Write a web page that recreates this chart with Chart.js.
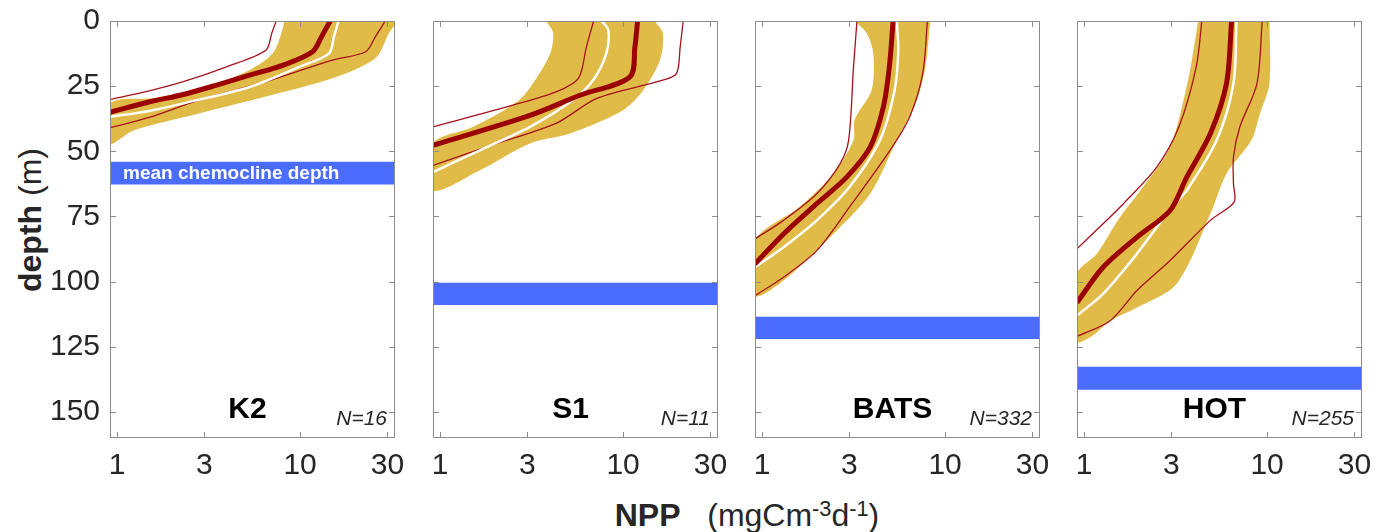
<!DOCTYPE html>
<html>
<head>
<meta charset="utf-8">
<script src="https://cdn.jsdelivr.net/npm/chart.js@4/dist/chart.umd.min.js"></script>
<style>
  body { margin: 0; background: #fff; width: 1389px; height: 532px; position: relative; overflow: hidden;
         font-family: "Liberation Sans", Arial, sans-serif; color: #262626; }
  canvas { position: absolute; top: 0; }
  #ylab { position: absolute; left: 30px; top: 220px; transform: translate(-50%, -50%) rotate(-90deg);
          font-size: 32px; line-height: 32px; white-space: nowrap; }
  #xlab { position: absolute; left: 747px; top: 499px; transform: translateX(-50%);
          font-size: 32px; line-height: 32px; white-space: nowrap; }
  .sup { position: relative; top: -0.48em; font-size: 0.68em; }
</style>
</head>
<body>
<div id="ylab"><b>depth</b> (m)</div>
<div id="xlab"><b>NPP</b>&nbsp;&nbsp;&nbsp;(mgCm<span class="sup">-3</span>d<span class="sup">-1</span>)</div>
<script>
const stations = ['K2', 'S1', 'BATS', 'HOT'];
const nObs = [16, 11, 332, 255];
// mean chemocline depth band (m)
const chemoTop = [54, 100.4, 113.5, 132.7];
const chemoBottom = [62.7, 109, 122, 141.5];

const depthTicks = [0, 25, 50, 75, 100, 125, 150];
const nppTicks = [1, 3, 10, 30];
const nppRange = [0.915, 33];
const depthRange = [0, 160];

// profiles as [NPP, depth] pairs
const k2Median = [[14.6, 0], [13.1, 6], [11.7, 11.8], [8.1, 16.9], [5.3, 20.8], [3.5, 24.6], [2.3, 28.2], [1.51, 31], [0.915, 35]];
const k2Mean   = [[16.2, 0], [15.3, 6], [14.4, 12.4], [9.9, 17.6], [5.3, 25.3], [2.3, 31.6], [1.5, 34.5], [0.915, 36.8]];
const k2Low    = [[7.4, 0], [7.0, 4.7], [6.5, 11.2], [3.96, 17.6], [2.3, 23.3], [1.5, 26.8], [0.915, 30.1]];
const k2High   = [[29.2, 0], [25.8, 6], [22.8, 11.8], [15, 15], [6.5, 23.3], [2.8, 30.4], [1.5, 37], [0.915, 40.9]];
const k2BandLo = [[8.2, 0], [7.9, 4.7], [7.1, 12.4], [5.3, 18.8], [2.8, 26.5], [1.6, 29.5], [0.915, 31.6]];
const k2BandHi = [[34, 0], [30.6, 4.7], [25.8, 14.3], [15, 22], [6.5, 29], [2.8, 35.5], [1.23, 42], [0.915, 47]];

const s1Median = [[12.0, 0], [11.6, 10], [10.9, 21.4], [5.8, 28.5], [3.1, 36.2], [0.915, 47.7]];
const s1Mean   = [[7.65, 0], [8.3, 3.5], [8.1, 12.4], [6.85, 22.7], [5.3, 30.4], [3.1, 40.6], [1.65, 49.6], [0.915, 58]];
const s1Low    = [[6.9, 0], [6.3, 10], [5.7, 22], [4.3, 27.2], [2.5, 32.3], [0.915, 40.6]];
const s1High   = [[21.3, 0], [20.5, 10], [19.6, 20.1], [16.5, 22.7], [7.2, 29.7], [4.3, 39.3], [2.04, 47], [0.915, 55.4]];
const s1BandLo = [[3.8, 0], [4.15, 4.7], [4.0, 12.4], [3.4, 21.4], [2.7, 30.4], [1.52, 40.6], [0.915, 47]];
const s1BandHi = [[14.9, 0], [16.5, 4.7], [15.9, 15], [12.9, 26.5], [10.0, 34.2], [5.1, 43.2], [3.1, 47], [1.65, 57.3], [0.915, 65]];

const batsMedian = [[5.2, 0], [4.96, 17.6], [4.6, 33], [3.9, 48.3], [2.9, 59.9], [1.99, 70.1], [1.31, 81.7], [0.915, 93.2]];
const batsMean   = [[5.44, 0], [5.55, 11.2], [5.3, 26.5], [4.4, 45.8], [3.0, 63.7], [1.99, 76.5], [1.31, 86.8], [0.915, 94.5]];
const batsLow    = [[3.3, 0], [3.16, 17.6], [2.97, 45.8], [2.67, 54.7], [1.99, 66.3], [1.31, 76.5], [0.915, 83.6]];
const batsHigh   = [[8.0, 0], [7.55, 20.1], [6.4, 36.8], [5.0, 49.6], [3.0, 71.4], [1.99, 88.1], [1.31, 98.3], [0.915, 105.4]];
const batsBandLo = [[3.2, 0], [3.73, 4.7], [4.05, 12.4], [3.97, 26.5], [3.2, 38], [3.16, 45.8], [2.45, 58.6], [1.6, 71.4], [0.915, 84.2]];
const batsBandHi = [[8.3, 0], [7.8, 17.6], [7.0, 30.4], [5.44, 45.8], [3.9, 66.3], [2.45, 81.7], [1.31, 99.6], [0.915, 105.4]];

const hotMedian = [[6.4, 0], [6.0, 24], [4.9, 43.2], [3.64, 59.9], [2.95, 72.7], [1.94, 83], [1.27, 94.5], [0.915, 108]];
const hotMean   = [[6.8, 0], [6.55, 24], [5.3, 45.8], [3.64, 65], [3.05, 71], [1.94, 89.4], [1.27, 104.7], [0.915, 113]];
const hotLow    = [[4.4, 0], [4.1, 17.6], [3.3, 40.6], [2.5, 56], [1.64, 70.1], [1.27, 77.8], [0.915, 87.4]];
const hotHigh   = [[9.4, 0], [8.8, 24], [7.1, 40.6], [6.55, 52.2], [6.55, 62.4], [6.6, 69.5], [4.9, 76.5], [2.95, 91.9], [1.94, 103.5], [1.39, 115], [0.915, 121]];
const hotBandLo = [[4.2, 0], [4.1, 4.7], [3.7, 22.7], [2.95, 48.3], [2.1, 63.7], [1.57, 75.3], [1.17, 89.4], [0.915, 97]];
const hotBandHi = [[10.3, 0], [10.3, 24], [9.15, 35.5], [8.2, 45.8], [6.0, 58.6], [4.9, 74], [3.2, 100.9], [1.94, 110], [1.39, 115], [1.1, 121], [0.915, 123]];

const profiles = [
  { median: k2Median, mean: k2Mean, low: k2Low, high: k2High, bandLo: k2BandLo, bandHi: k2BandHi },
  { median: s1Median, mean: s1Mean, low: s1Low, high: s1High, bandLo: s1BandLo, bandHi: s1BandHi },
  { median: batsMedian, mean: batsMean, low: batsLow, high: batsHigh, bandLo: batsBandLo, bandHi: batsBandHi },
  { median: hotMedian, mean: hotMean, low: hotLow, high: hotHigh, bandLo: hotBandLo, bandHi: hotBandHi }
];

const GOLD = '#e1bb48';
const RED = '#9b0000';
const THIN_RED = '#a5121c';
const BLUE = '#4a6cff';
const AXIS = '#8c8c8c';
const FONT = '"Liberation Sans", Arial, sans-serif';

// plot area geometry (px)
const panelLeft = [110, 433, 755, 1077];
const panelWidth = 285;
const plotTop = 21, plotBottom = 438;

const toXY = pts => pts.map(([x, y]) => ({ x, y }));

const lineSet = (pts, color, width) => ({
  data: toXY(pts), borderColor: color, borderWidth: width,
  pointRadius: 0, tension: 0.3, fill: false
});

/* MATLAB-like box with inward ticks + panel labels */
const frame = {
  id: 'frame',
  afterDatasetsDraw(chart, args, opts) {
    const { ctx, chartArea: a, scales: { x, y } } = chart;
    ctx.save();

    if (opts.note) {
      const yc = y.getPixelForValue((chemoTop[opts.idx] + chemoBottom[opts.idx]) / 2);
      ctx.fillStyle = '#fff';
      ctx.font = 'bold 19px ' + FONT;
      ctx.textAlign = 'left';
      ctx.textBaseline = 'middle';
      ctx.fillText(opts.note, a.left + 13, yc + 1);
    }

    ctx.fillStyle = '#000';
    ctx.font = 'bold 30px ' + FONT;
    ctx.textAlign = 'center';
    ctx.textBaseline = 'middle';
    ctx.fillText(opts.title, (a.left + a.right) / 2 - 5, a.bottom - 28);

    ctx.fillStyle = '#262626';
    ctx.font = 'italic 21px ' + FONT;
    ctx.textAlign = 'right';
    ctx.fillText('N=' + opts.n, a.right - 8, a.bottom - 19);

    ctx.strokeStyle = AXIS;
    ctx.lineWidth = 1;
    ctx.strokeRect(a.left + 0.5, a.top + 0.5, a.width - 1, a.height - 1);
    ctx.beginPath();
    x.ticks.forEach(t => {
      const px = Math.round(x.getPixelForValue(t.value)) + 0.5;
      ctx.moveTo(px, a.top); ctx.lineTo(px, a.top + 6);
      ctx.moveTo(px, a.bottom); ctx.lineTo(px, a.bottom - 6);
    });
    y.ticks.forEach(t => {
      const py = Math.round(y.getPixelForValue(t.value)) + 0.5;
      ctx.moveTo(a.left, py); ctx.lineTo(a.left + 6, py);
      ctx.moveTo(a.right, py); ctx.lineTo(a.right - 6, py);
    });
    ctx.stroke();
    ctx.restore();
  }
};

stations.forEach((name, i) => {
  const p = profiles[i];
  const padL = i === 0 ? 110 : 10;
  const w = padL + panelWidth + 10;
  const canvas = document.createElement('canvas');
  canvas.width = w;
  canvas.height = 532;
  canvas.style.left = (panelLeft[i] - padL) + 'px';
  canvas.style.width = w + 'px';
  canvas.style.height = '532px';
  document.body.appendChild(canvas);

  const band = [...p.bandLo, ...p.bandHi.slice().reverse()];
  const chemo = [[nppRange[0], chemoTop[i]], [nppRange[1], chemoTop[i]],
                 [nppRange[1], chemoBottom[i]], [nppRange[0], chemoBottom[i]]];

  new Chart(canvas, {
    type: 'line',
    data: {
      datasets: [
        lineSet(p.median, RED, 5),
        lineSet(p.mean, '#ffffff', 2.5),
        lineSet(p.low, THIN_RED, 1.3),
        lineSet(p.high, THIN_RED, 1.3),
        { data: toXY(band), fill: 'shape', backgroundColor: GOLD, borderColor: 'rgba(0,0,0,0)',
          borderWidth: 0, pointRadius: 0, tension: 0.3 },
        { data: toXY(chemo), fill: 'shape', backgroundColor: BLUE, borderColor: 'rgba(0,0,0,0)',
          borderWidth: 0, pointRadius: 0, tension: 0 }
      ]
    },
    options: {
      responsive: false,
      animation: false,
      devicePixelRatio: 1,
      layout: { padding: { top: plotTop, right: 10, left: 0, bottom: 0 } },
      plugins: {
        legend: { display: false },
        tooltip: { enabled: false },
        frame: { title: name, n: nObs[i], idx: i, note: i === 0 ? 'mean chemocline depth' : '' }
      },
      scales: {
        x: {
          type: 'logarithmic', position: 'bottom',
          min: nppRange[0], max: nppRange[1],
          afterBuildTicks: s => { s.ticks = nppTicks.map(v => ({ value: v })); },
          afterFit: s => { s.height = 532 - plotBottom; s.paddingLeft = 0; s.paddingRight = 0; },
          grid: { display: false, drawTicks: false },
          border: { display: false },
          ticks: { autoSkip: false, maxRotation: 0, padding: 10, color: '#262626',
                   font: { family: FONT, size: 30 }, callback: v => String(v) }
        },
        y: {
          type: 'linear', reverse: true,
          min: depthRange[0], max: depthRange[1],
          afterBuildTicks: s => { s.ticks = depthTicks.map(v => ({ value: v })); },
          afterFit: s => { s.width = padL; s.paddingTop = 0; s.paddingBottom = 0; },
          grid: { display: false, drawTicks: false },
          border: { display: false },
          ticks: { display: i === 0, padding: 10, color: '#262626',
                   font: { family: FONT, size: 30 } }
        }
      }
    },
    plugins: [frame]
  });
});
</script>
</body>
</html>
